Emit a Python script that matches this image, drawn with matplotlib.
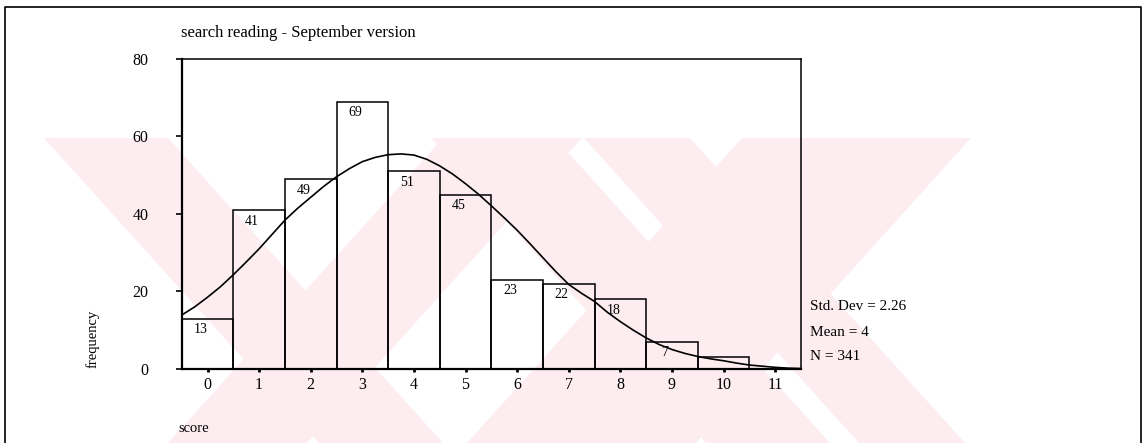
import matplotlib
matplotlib.use("Agg")
import matplotlib.pyplot as plt
from matplotlib.patches import Polygon
from matplotlib.lines import Line2D

# histogram data
scores = [0, 1, 2, 3, 4, 5, 6, 7, 8, 9, 10, 11]
counts = [13, 41, 49, 69, 51, 45, 23, 22, 18, 7, 3, 0]
bar_labels = ["13", "41", "49", "69", "51", "45", "23", "22", "18", "7", "", ""]

# fitted normal curve
curve_x = [-0.5, -0.25, 0.0, 0.25, 0.5, 0.75, 1.0, 1.25, 1.5, 1.75, 2.0, 2.25,
           2.5, 2.75, 3.0, 3.25, 3.5, 3.75, 4.0, 4.25, 4.5, 4.75, 5.0, 5.25,
           5.5, 5.75, 6.0, 6.25, 6.5, 6.75, 7.0, 7.25, 7.5, 7.75, 8.0, 8.25,
           8.5, 8.75, 9.0, 9.25, 9.5, 9.75, 10.0, 10.25, 10.5, 10.75, 11.0,
           11.25, 11.5]
curve_y = [13.9, 16.0, 18.5, 21.2, 24.3, 27.6, 31.0, 34.7, 38.4, 41.5, 44.3, 47.1,
           49.6, 51.7, 53.5, 54.6, 55.3, 55.5, 55.2, 54.1, 52.4, 50.3, 47.8, 45.1,
           42.1, 39.0, 35.8, 32.3, 28.7, 25.1, 21.8, 19.5, 17.4, 14.6, 12.2, 10.0,
           8.0, 6.3, 5.0, 4.0, 3.2, 2.6, 2.1, 1.5, 1.0, 0.7, 0.4,
           0.2, 0.1]

y_ticks = [0, 20, 40, 60, 80]
title = "search reading - September version"
stats = ["Std. Dev = 2.26", "Mean = 4", "N = 341"]

W, H = 1145, 443
plt.rcParams['font.family'] = ['Liberation Serif', 'DejaVu Serif']

fig = plt.figure(figsize=(W / 100, H / 100), dpi=100)
fig.patch.set_facecolor("white")


def px(x, y):
    # pixel position (from top-left) -> figure fraction
    return (x / W, 1 - y / H)


# pale pink watermark behind the chart
pink = "#fdedf0"
top_y, bot_y, shift = 138, 443, 275
for a, b in [(44, 168), (431, 555), (584, 690)]:
    pts = [px(a, top_y), px(b, top_y), px(b + shift, bot_y), px(a + shift, bot_y)]
    fig.patches.append(Polygon(pts, closed=True, transform=fig.transFigure,
                               facecolor=pink, edgecolor="none", zorder=-10))
for a, b in [(168, 307), (467, 599), (572, 696)]:
    pts = [px(a, bot_y), px(b, bot_y), px(b + shift, top_y), px(a + shift, top_y)]
    fig.patches.append(Polygon(pts, closed=True, transform=fig.transFigure,
                               facecolor=pink, edgecolor="none", zorder=-10))

# outer frame (left, top, right)
fx = [5 / W, 5 / W, 1141 / W, 1141 / W]
fy = [0, 1 - 7 / H, 1 - 7 / H, 0]
fig.lines.append(Line2D(fx, fy, transform=fig.transFigure, color="black", lw=1.2))

ax = fig.add_axes([181.7 / W, 1 - 368.9 / H, (801 - 181.7) / W, (368.9 - 59) / H])
ax.patch.set_alpha(0)

ax.bar(scores, counts, width=1.0, facecolor="none", edgecolor="black", linewidth=1.1)
ax.plot(curve_x, curve_y, color="black", linewidth=1.2)

for s, c, lab in zip(scores, counts, bar_labels):
    if lab:
        ax.annotate(lab, (s, c), xytext=(-5, -8), textcoords="offset points",
                    ha="center", va="center", fontsize=10)

ax.set_xlim(-0.5, 11.5)
ax.set_ylim(0, 80)
ax.set_xticks(scores)
ax.set_xticklabels([str(s) for s in scores])
ax.set_yticks(y_ticks)
ax.set_yticklabels([str(t) for t in y_ticks])
ax.tick_params(axis="y", length=4, width=1.2, pad=20, labelsize=11.5)
ax.tick_params(axis="x", length=2, width=2, pad=4, labelsize=11.5)
for side in ["left", "bottom"]:
    ax.spines[side].set_linewidth(1.6)
for side in ["top", "right"]:
    ax.spines[side].set_linewidth(1.1)

fig.text(181 / W, 1 - 33 / H, title, fontsize=12, ha="left", va="center")
fig.text(93 / W, 1 - 339 / H, "frequency", fontsize=10.5, rotation=90,
         ha="center", va="center")
fig.text(178 / W, 1 - 428 / H, "score", fontsize=10.5, ha="left", va="center")
for i, line in enumerate(stats):
    fig.text(810 / W, 1 - (307 + 25 * i) / H, line, fontsize=11, ha="left", va="center")

fig.savefig("out.png", dpi=100)
